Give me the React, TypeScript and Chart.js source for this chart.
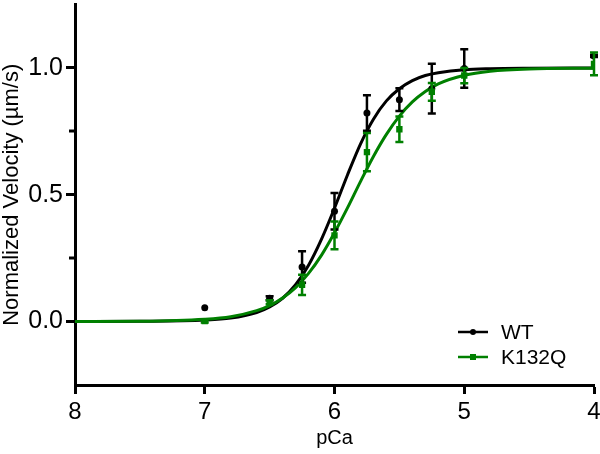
import React, { useEffect, useRef } from "react";
import { Chart, registerables } from "chart.js";

Chart.register(...registerables);

// ---- data ----
const pCa = [7, 6.5, 6.25, 6, 5.75, 5.5, 5.25, 5, 4];
const wtMean = [0.055, 0.092, 0.215, 0.435, 0.822, 0.875, 0.918, 0.998, 1.047];
const wtErr = [0.0, 0.008, 0.062, 0.072, 0.07, 0.045, 0.098, 0.076, 0.004];
const k132qMean = [0.002, 0.076, 0.145, 0.34, 0.668, 0.758, 0.906, 0.97, 1.016];
const k132qErr = [0.006, 0.008, 0.04, 0.055, 0.075, 0.05, 0.035, 0.03, 0.045];

const fitPCa = [8, 7.5, 7, 6.8, 6.6, 6.5, 6.4, 6.3, 6.2, 6.1, 6, 5.9, 5.8, 5.7, 5.6, 5.5, 5.4, 5.3, 5.2, 5, 4.8, 4.5, 4];
const wtFit = [0.0, 0.001, 0.006, 0.014, 0.036, 0.058, 0.092, 0.145, 0.222, 0.325, 0.447, 0.578, 0.7, 0.798, 0.87, 0.918, 0.95, 0.97, 0.981, 0.993, 0.997, 0.999, 1.0];
const k132qFit = [0.0, 0.001, 0.009, 0.019, 0.043, 0.063, 0.093, 0.134, 0.19, 0.262, 0.35, 0.448, 0.552, 0.651, 0.738, 0.81, 0.866, 0.907, 0.937, 0.971, 0.987, 0.996, 0.999];

const xTicks = [8, 7, 6, 5, 4];
const yTicks = [0, 0.5, 1.0];
const yMinorTicks = [0.25, 0.75];
const seriesNames = ["WT", "K132Q"];

const BLACK = "#000000";
const GREEN = "#008000";
const FONT = "'Liberation Sans', Arial, Helvetica, sans-serif";

const errorBarPlugin = {
  id: "errorBars",
  beforeDatasetDraw(chart: any, args: any) {
    const ds = chart.data.datasets[args.index];
    if (!ds.errorBars) return;
    const { ctx } = chart;
    const x = chart.scales.x;
    const y = chart.scales.y;
    ctx.save();
    ctx.strokeStyle = ds.borderColor;
    ctx.lineWidth = 2.5;
    ds.data.forEach((p: any, i: number) => {
      const e = ds.errorBars[i];
      if (!e) return;
      const px = x.getPixelForValue(p.x);
      const top = y.getPixelForValue(p.y + e);
      const bot = y.getPixelForValue(p.y - e);
      const cap = 4;
      ctx.beginPath();
      ctx.moveTo(px, top);
      ctx.lineTo(px, bot);
      ctx.moveTo(px - cap, top);
      ctx.lineTo(px + cap, top);
      ctx.moveTo(px - cap, bot);
      ctx.lineTo(px + cap, bot);
      ctx.stroke();
    });
    ctx.restore();
  },
};

const minorTickPlugin = {
  id: "minorTicks",
  afterDraw(chart: any) {
    const { ctx } = chart;
    const y = chart.scales.y;
    const left = chart.chartArea.left;
    ctx.save();
    ctx.strokeStyle = BLACK;
    ctx.lineWidth = 3;
    yMinorTicks.forEach((v) => {
      const py = Math.round(y.getPixelForValue(v));
      ctx.beginPath();
      ctx.moveTo(left - 6, py);
      ctx.lineTo(left, py);
      ctx.stroke();
    });
    ctx.restore();
  },
};

const legendPlugin = {
  id: "customLegend",
  afterDraw(chart: any) {
    const { ctx } = chart;
    const colors = [BLACK, GREEN];
    const rowsY = [332, 357];
    const x0 = 458;
    const x1 = 488;
    ctx.save();
    seriesNames.forEach((name, i) => {
      const yy = rowsY[i];
      ctx.strokeStyle = colors[i];
      ctx.fillStyle = colors[i];
      ctx.lineWidth = 2.5;
      ctx.beginPath();
      ctx.moveTo(x0, yy);
      ctx.lineTo(x1, yy);
      ctx.stroke();
      const cx = (x0 + x1) / 2;
      if (i === 0) {
        ctx.beginPath();
        ctx.arc(cx, yy, 3, 0, Math.PI * 2);
        ctx.fill();
      } else {
        ctx.fillRect(cx - 3, yy - 3, 6, 6);
      }
      ctx.fillStyle = BLACK;
      ctx.font = `21px ${FONT}`;
      ctx.textBaseline = "middle";
      ctx.textAlign = "left";
      ctx.fillText(name, 501, yy + 1);
    });
    ctx.restore();
  },
};

export default function App() {
  const canvasRef = useRef<HTMLCanvasElement | null>(null);

  useEffect(() => {
    if (!canvasRef.current) return;
    const chart = new Chart(canvasRef.current, {
      type: "scatter",
      data: {
        datasets: [
          {
            label: "WT fit",
            data: fitPCa.map((x, i) => ({ x, y: wtFit[i] })),
            showLine: true,
            borderColor: BLACK,
            borderWidth: 3,
            pointRadius: 0,
            cubicInterpolationMode: "monotone",
            order: 4,
          },
          {
            label: "K132Q fit",
            data: fitPCa.map((x, i) => ({ x, y: k132qFit[i] })),
            showLine: true,
            borderColor: GREEN,
            borderWidth: 3,
            pointRadius: 0,
            cubicInterpolationMode: "monotone",
            order: 3,
          },
          {
            label: seriesNames[0],
            data: pCa.map((x, i) => ({ x, y: wtMean[i] })),
            errorBars: wtErr,
            showLine: false,
            borderColor: BLACK,
            backgroundColor: BLACK,
            pointStyle: "circle",
            pointRadius: 3.5,
            pointBorderWidth: 0,
            order: 2,
          } as any,
          {
            label: seriesNames[1],
            data: pCa.map((x, i) => ({ x, y: k132qMean[i] })),
            errorBars: k132qErr,
            showLine: false,
            borderColor: GREEN,
            backgroundColor: GREEN,
            pointStyle: "rect",
            pointRadius: 4.5,
            pointBorderWidth: 0,
            order: 1,
          } as any,
        ],
      },
      options: {
        animation: false,
        responsive: false,
        maintainAspectRatio: false,
        layout: { padding: { top: 1, right: 6, left: 0, bottom: 0 } },
        plugins: {
          legend: { display: false },
          tooltip: { enabled: false },
        },
        scales: {
          x: {
            type: "linear",
            reverse: true,
            min: 4,
            max: 8,
            afterBuildTicks: (scale: any) => {
              scale.ticks = xTicks.map((v) => ({ value: v }));
            },
            afterFit: (scale: any) => {
              scale.height = 69;
              scale.paddingLeft = 0;
              scale.paddingRight = 0;
            },
            grid: {
              drawOnChartArea: false,
              drawTicks: true,
              tickLength: 9,
              tickWidth: 3,
              tickColor: BLACK,
            },
            border: { display: true, color: BLACK, width: 3 },
            ticks: {
              color: BLACK,
              font: { family: FONT, size: 24, lineHeight: 1.1 },
              padding: 5,
              maxRotation: 0,
              callback: (v: any) => String(v),
            },
            title: {
              display: true,
              text: "pCa",
              color: BLACK,
              font: { family: FONT, size: 20, lineHeight: 1.2 },
              padding: { top: 0, bottom: 4 },
            },
          },
          y: {
            type: "linear",
            min: -0.25,
            max: 1.25,
            afterBuildTicks: (scale: any) => {
              scale.ticks = yTicks.map((v) => ({ value: v }));
            },
            afterFit: (scale: any) => {
              scale.width = 75;
              scale.paddingTop = 0;
              scale.paddingBottom = 0;
            },
            grid: {
              drawOnChartArea: false,
              drawTicks: true,
              tickLength: 9,
              tickWidth: 3,
              tickColor: BLACK,
            },
            border: { display: true, color: BLACK, width: 3 },
            ticks: {
              color: BLACK,
              font: { family: FONT, size: 25 },
              padding: 3,
              callback: (v: any) => Number(v).toFixed(1),
            },
            title: {
              display: true,
              text: "Normalized Velocity (µm/s)",
              color: BLACK,
              font: { family: FONT, size: 22, lineHeight: 1 },
              padding: { top: 1, bottom: 0 },
            },
          },
        },
      },
      plugins: [errorBarPlugin, minorTickPlugin, legendPlugin],
    } as any);
    return () => chart.destroy();
  }, []);

  return (
    <div style={{ position: "absolute", left: 0, top: 0, width: 600, height: 454, background: "#fff" }}>
      <canvas ref={canvasRef} width={600} height={454} style={{ width: 600, height: 454, display: "block" }} />
    </div>
  );
}
